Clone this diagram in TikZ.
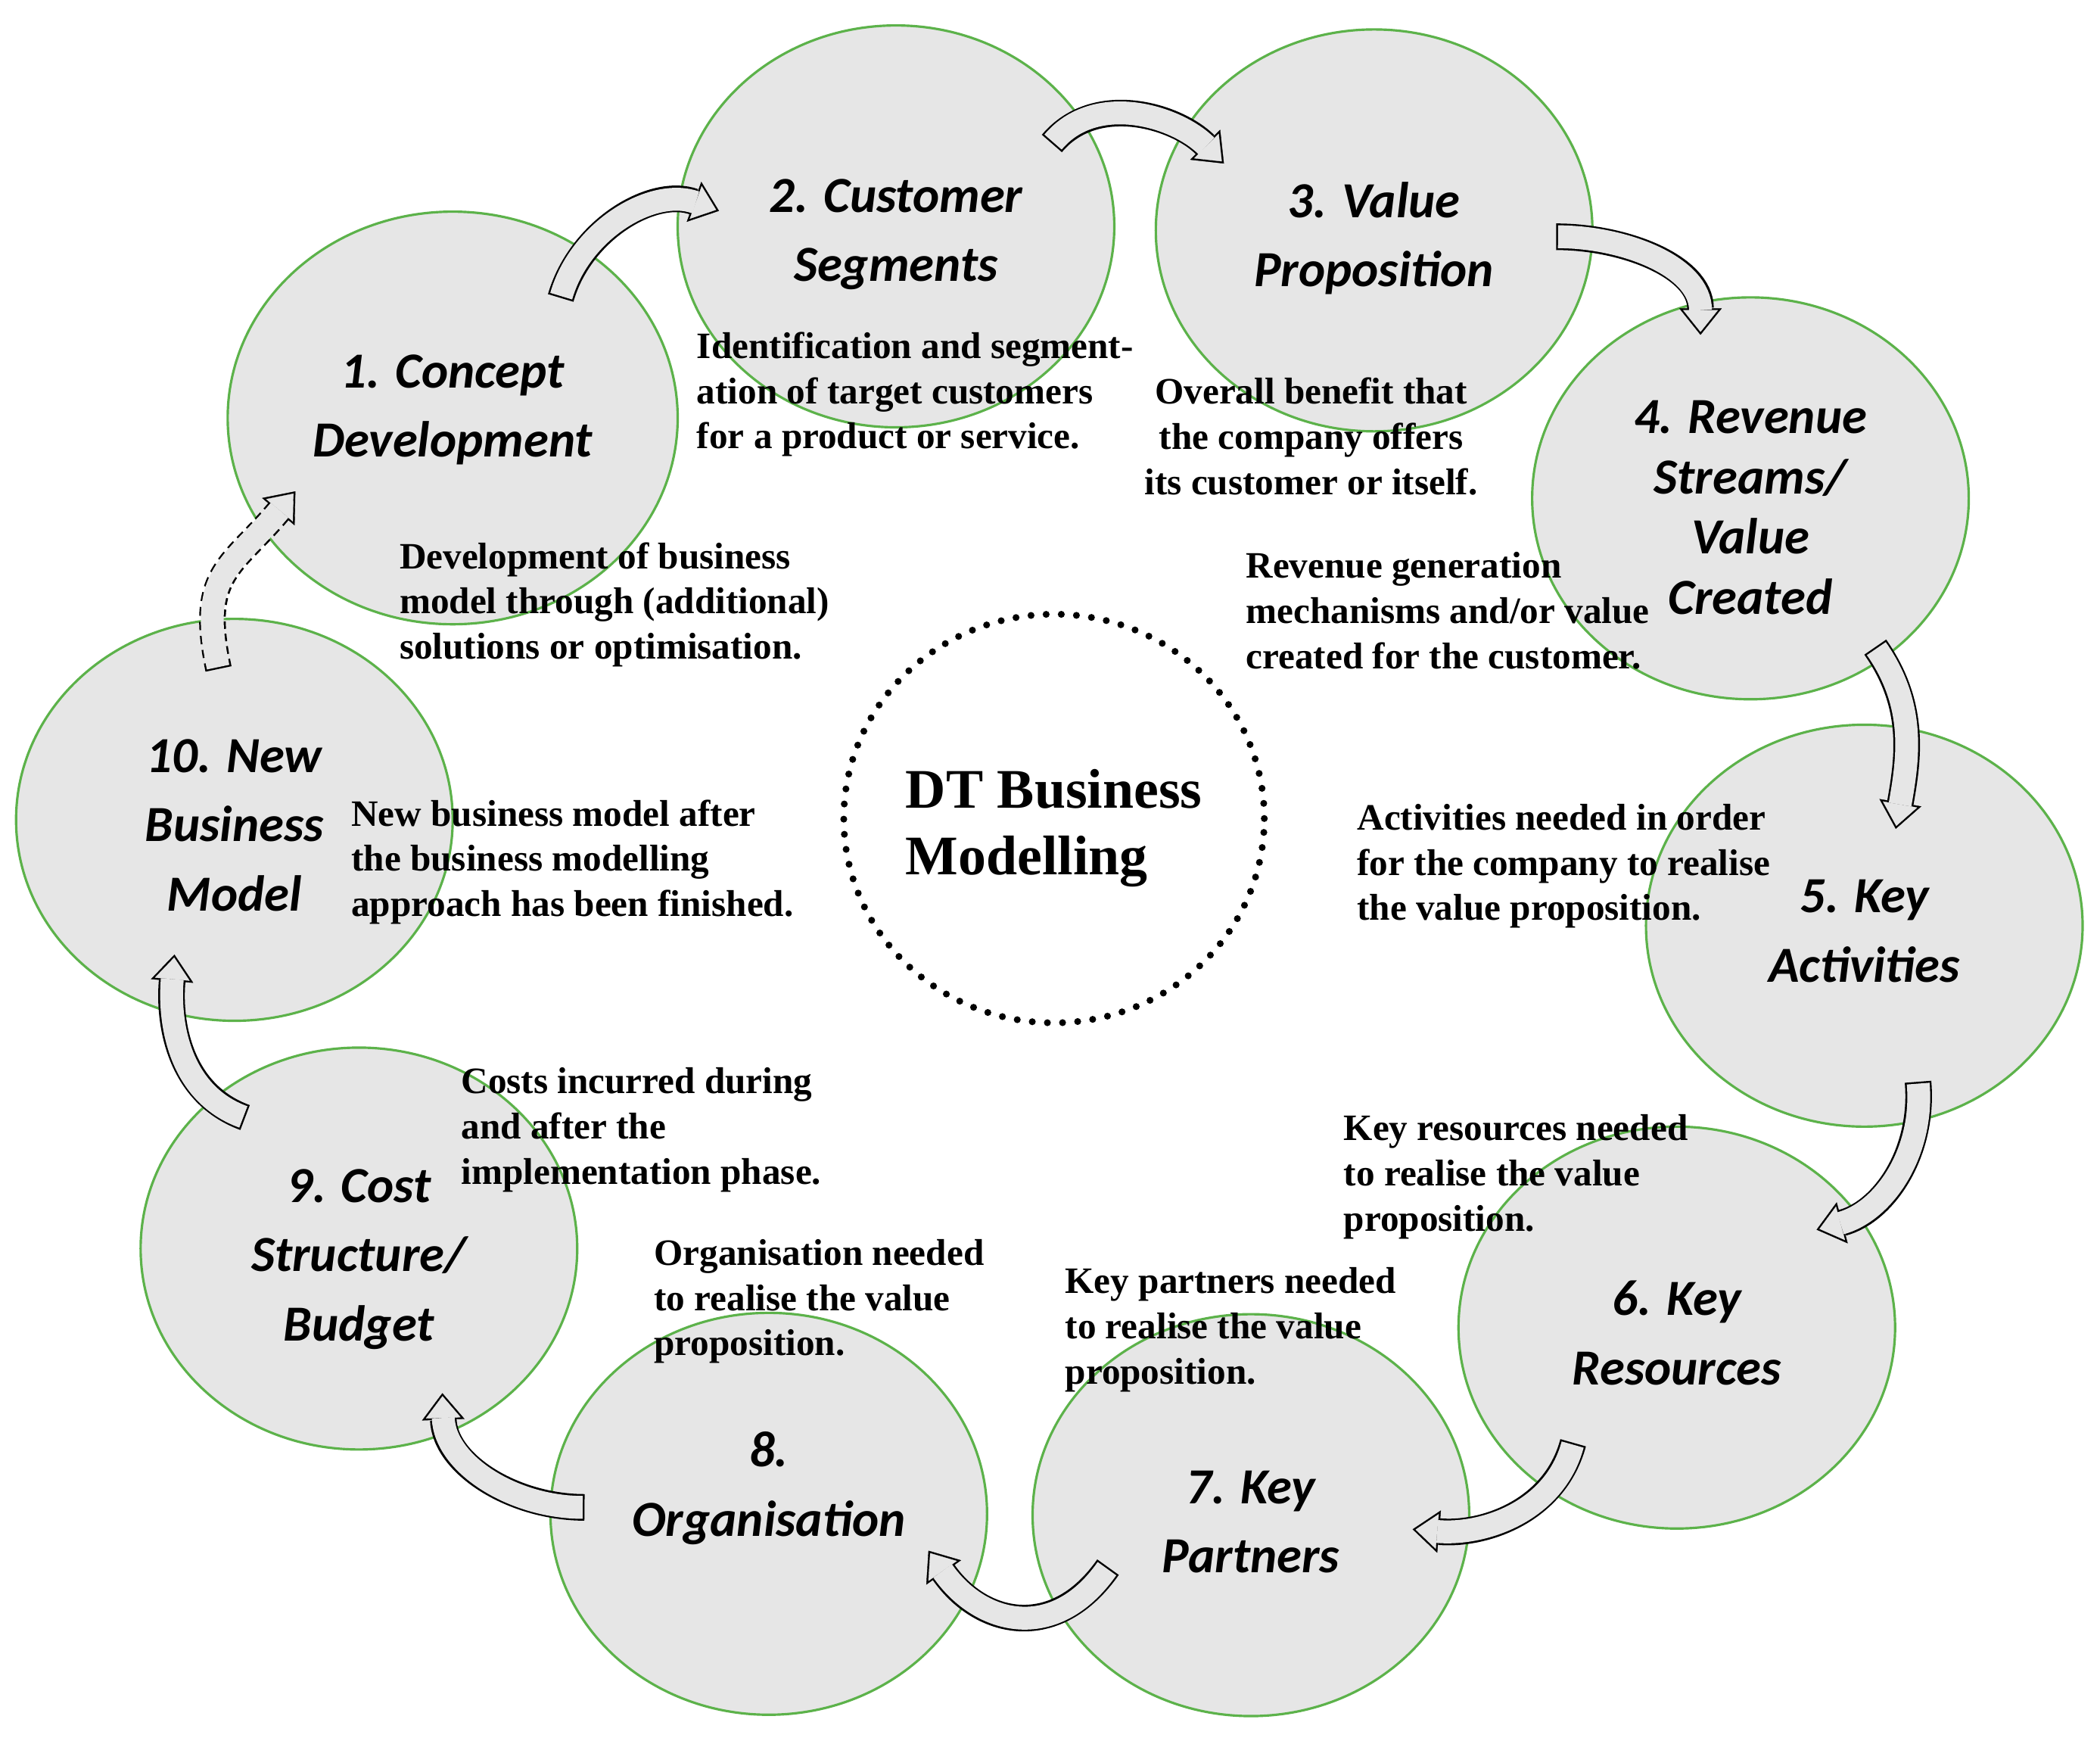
\documentclass[tikz,border=0pt]{standalone}
\usepackage{fontspec}
\setmainfont{Liberation Serif}
\newfontfamily\stagefont{Carlito}
\usetikzlibrary{arrows.meta,calc,shapes.geometric}
\definecolor{ringgreen}{RGB}{92,178,74}
\definecolor{ringfill}{RGB}{230,230,230}
\newcommand\pxu{0.17698mm}
\tikzset{
  stage/.style={ellipse, draw=ringgreen, line width=0.9pt, fill=ringfill,
    minimum width=326*\pxu, minimum height=300*\pxu, inner sep=0pt},
  stagename/.style={font=\stagefont\bfseries\itshape\fontsize{19}{26}\selectfont,
    align=center, inner sep=0pt},
  note/.style={font=\bfseries\fontsize{14}{17}\selectfont, align=left,
    anchor=base west, inner sep=0pt},
  flow/.style={line width=10pt, draw=black,
    -{Triangle[width=16pt,length=10pt,line width=0.1pt]},
    postaction={draw=ringfill, solid, line width=8.6pt, shorten <=0.7pt, shorten >=1.12pt,
      -{Triangle[width=13.1pt,length=8.2pt,line width=0.1pt]}}},
  flowdash/.style={flow, dash pattern=on 3pt off 2pt},
}

\begin{document}
\begin{tikzpicture}[x=\pxu, y=\pxu]
  \useasboundingbox (0,0) rectangle (1568,1297);

  % the ten stages
  \node[stage, minimum width=336*\pxu, minimum height=308*\pxu] (c1) at (338,985) {};
  \node[stage] (c2) at (669,1128) {};
  \node[stage] (c3) at (1026,1125) {};
  \node[stage] (c4) at (1307,925) {};
  \node[stage] (c5) at (1392,606) {};
  \node[stage] (c6) at (1252,306) {};
  \node[stage] (c7) at (934,166) {};
  \node[stage] (c8) at (574,167) {};
  \node[stage] (c9) at (268,365) {};
  \node[stage] (c10) at (175,685) {};

  \node[ellipse, draw, line width=2.6pt, dash pattern=on 0pt off 5.7pt, line cap=round,
    minimum width=314*\pxu, minimum height=305*\pxu, inner sep=0pt] (hub) at (787,686) {};
  \node[align=left, inner sep=0pt, font=\bfseries\fontsize{21}{25}\selectfont]
    (hubname) at ($(hub)+(0,-7)$) {DT Business\\Modelling};

  % flow between stages
  \draw[flow] ($(c1.center)!.75!(c1.48)$) to[out=74,in=160] ($(c2.center)!.81!(c2.175)$);
  \draw[flow] ($(c2.center)!.82!(c2.28)$) to[out=50,in=135] ($(c3.center)!.76!(c3.156)$);
  \draw[flow] ($(c3.center)!.83!(c3.-2)$) to[out=0,in=90] ($(c4.center)!.84!(c4.107)$);
  \draw[flow] ($(c4.center)!.93!(c4.-50)$) to[out=-55,in=80] ($(c5.center)!.5!(c5.72)$);
  \draw[flow] ($(c5.center)!.81!(c5.-71)$) to[out=-85,in=15] ($(c6.center)!.8!(c6.35)$);
  \draw[flow] ($(c6.center)!.74!(c6.-132)$) to[out=-105,in=-5] ($(c7.center)!.74!(c7.-5)$);
  \draw[flow] ($(c7.center)!.7!(c7.200)$) to[out=235,in=-55,looseness=1.3] ($(c8.center)!.75!(c8.-13)$);
  \draw[flow] ($(c8.center)!.84!(c8.178)$) to[out=180,in=-88] ($(c9.center)!.81!(c9.-60)$);
  \draw[flow] ($(c9.center)!.83!(c9.131)$) to[out=160,in=-95] ($(c10.center)!.72!(c10.-114)$);
  \draw[flowdash] ($(c10.center)!.75!(c10.96)$) to[out=102,in=230,looseness=1.3] ($(c1.center)!.78!(c1.205)$);

  % stage names
  \node[stagename] (n1) at ($(c1)+(0,6)$) {1. Concept\\Development};
  \node[stagename] (n2) at ($(c2)+(0,-6)$) {2. Customer\\Segments};
  \node[stagename] (n3) at ($(c3)+(0,-6)$) {3. Value\\Proposition};
  \node[stagename, font=\stagefont\bfseries\itshape\fontsize{19}{22.6}\selectfont] (n4) at ($(c4)+(0,-7)$) {4. Revenue\\Streams/\\Value\\Created};
  \node[stagename] (n5) at ($(c5)+(0,-4)$) {5. Key\\Activities};
  \node[stagename] (n6) at ($(c6)+(0,-4)$) {6. Key\\Resources};
  \node[stagename] (n7) at ($(c7)+(0,-5)$) {7. Key\\Partners};
  \node[stagename] (n8) at ($(c8)+(0,19)$) {8.\\Organisation};
  \node[stagename] (n9) at ($(c9)+(0,-8)$) {9. Cost\\Structure/\\Budget};
  \node[stagename] (n10) at ($(c10)+(0,-4)$) {10. New\\Business\\Model};

  % descriptions
  \node[note] (d2) at (520,962) {Identification and segment-\\ation of target customers\\for a product or service.};
  \node[note, align=center, anchor=base] (d3) at (979,928) {Overall benefit that\\the company offers\\its customer or itself.};
  \node[note] (d1) at (298,805) {Development of business\\model through (additional)\\solutions or optimisation.};
  \node[note] (d4) at (930,798) {Revenue generation\\mechanisms and/or value\\created for the customer.};
  \node[note] (d10) at (262,613) {New business model after\\the business modelling\\approach has been finished.};
  \node[note] (d5) at (1013,610) {Activities needed in order\\for the company to realise\\the value proposition.};
  \node[note] (d9) at (344,413) {Costs incurred during\\and after the\\implementation phase.};
  \node[note] (d6) at (1003,378) {Key resources needed\\to realise the value\\proposition.};
  \node[note] (d8) at (488,285) {Organisation needed\\to realise the value\\proposition.};
  \node[note] (d7) at (795,264) {Key partners needed\\to realise the value\\proposition.};
\end{tikzpicture}
\end{document}
